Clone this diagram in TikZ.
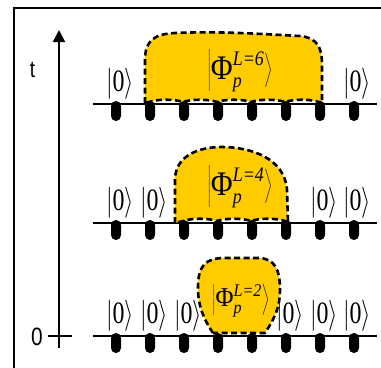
\RequirePackage{fix-cm}
\documentclass[tikz,border=0pt]{standalone}
\usepackage{graphicx}
\usepackage{fontspec}
\setmainfont{Liberation Serif}
\newfontfamily\sansf{Liberation Sans}
\usetikzlibrary{arrows.meta}
\definecolor{blobyellow}{RGB}{255,204,0}
\newcommand{\zket}{\scalebox{1}[1.3]{$|\mbox{0}\rangle$}}
\newcommand{\phiket}[2]{$\left|\mbox{Φ}^{\mbox{\fontsize{#2}{#2}\selectfont\itshape #1}}_{\mbox{\fontsize{#2}{#2}\selectfont\itshape p}}\right\rangle$}
\begin{document}
\begin{tikzpicture}[x=1bp,y=-1bp,
  frame/.style={line width=1.8bp},
  axisline/.style={line width=2bp},
  chain/.style={line width=2bp},
  site/.style={fill=black, rounded corners=4.9bp},
  blob/.style={fill=blobyellow, draw=black, line width=2.6bp, dash pattern=on 6bp off 3.5bp},
  ket/.style={font=\fontsize{24}{24}\selectfont, inner sep=0pt},
  bigket/.style={font=\fontsize{30}{30}\selectfont, inner sep=0pt},
  lab/.style={font=\sansf\fontsize{19}{19}\selectfont, inner sep=0pt}]
\useasboundingbox (0,0) rectangle (381,368);
% frame
\draw[frame] (381,8) -- (14,8) -- (14,368);
% time axis
\coordinate (abot) at (59,348);
\coordinate (atop) at (59,30);
\draw[axisline,-{Triangle[length=12bp,width=12bp]}] (abot) -- (atop);
\coordinate (tickl) at (48,336);
\coordinate (tickr) at (72,336);
\draw[axisline] (tickl) -- (tickr);
\node[lab] (tlab) at (32.5,70) {\scalebox{1}[1.25]{t}};
\node[lab,font=\sansf\fontsize{21}{21}\selectfont] (zlab) at (37,337) {\scalebox{1}[1.2]{0}};
% chains
\foreach \y/\n in {104/a,223/b,336/c}{
  \coordinate (\n L) at (93,\y);
  \coordinate (\n R) at (377,\y);
  \draw[chain] (\n L) -- (\n R);
}
% blobs
\path[blob] (145,103) -- (145,60) .. controls (145,40) and (155,34) .. (175,33)
  .. controls (220,31) and (260,34) .. (300,36) .. controls (318,38) and (322,48) .. (322,65)
  -- (322,103) -- (319,102) .. controls (311,99) and (293,99) .. (285,102)
  .. controls (277,99) and (259,99) .. (251,102) .. controls (243,99) and (225,99) .. (217,102)
  .. controls (209,99) and (191,99) .. (183,102) .. controls (175,99) and (157,99) .. (149,102)
  -- cycle;
\path[blob] (175,223) -- (175,180) .. controls (175,158) and (195,147) .. (222,147)
  .. controls (250,147) and (285,158) .. (287,190) -- (288,223) -- (285,221)
  .. controls (277,218) and (259,218) .. (251,221) .. controls (243,218) and (225,218) .. (217,221)
  .. controls (209,218) and (191,218) .. (183,221) -- cycle;
\path[blob] (213,333) .. controls (203,318) and (198,305) .. (198,288)
  .. controls (198,266) and (205,258) .. (225,258) -- (258,258)
  .. controls (275,258) and (280,270) .. (280,290) .. controls (280,310) and (272,322) .. (265,333) -- cycle;
% sites
\foreach \y in {104,223,336}{
  \foreach \i in {0,...,7}{
    \pgfmathsetmacro{\sx}{116+34*\i}
    \fill[site] (\sx-5,\y-3) rectangle (\sx+5,\y+17);
  }
}
% kets
\node[ket] (k1) at (120,84) {\zket};
\node[ket] (k2) at (357,84) {\zket};
\node[ket] (k3) at (120,203) {\zket};
\node[ket] (k4) at (154,203) {\zket};
\node[ket] (k5) at (324,203) {\zket};
\node[ket] (k6) at (357,203) {\zket};
\node[ket] (k7) at (120,316) {\zket};
\node[ket] (k8) at (154,316) {\zket};
\node[ket] (k9) at (188,316) {\zket};
\node[ket] (k10) at (290,316) {\zket};
\node[ket] (k11) at (324,316) {\zket};
\node[ket] (k12) at (357,316) {\zket};
\node[bigket] (p6) at (240,71) {\scalebox{1}[1.15]{\phiket{L=6}{18}}};
\node[bigket] (p4) at (240,187) {\scalebox{1}[1.15]{\phiket{L=4}{18}}};
\node[bigket,font=\fontsize{26}{26}\selectfont] (p2) at (241,301) {\scalebox{0.95}[1.05]{\phiket{L=2}{17}}};
\end{tikzpicture}
\end{document}
